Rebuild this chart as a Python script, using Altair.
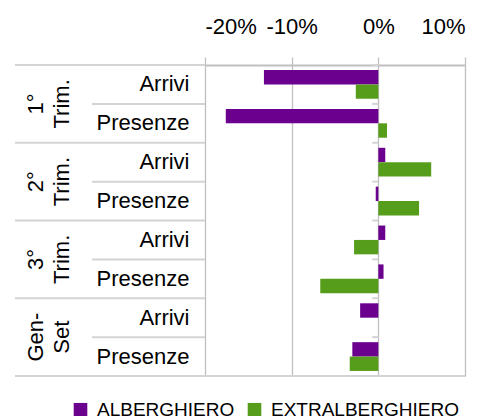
import altair as alt
import pandas as pd

FONT = "Liberation Sans"

groups = ["1° Trim.", "2° Trim.", "3° Trim.", "Gen-Set"]
group_labels = ["1°\nTrim.", "2°\nTrim.", "3°\nTrim.", "Gen-\nSet"]
measures = ["Arrivi", "Presenze"]
series = ["ALBERGHIERO", "EXTRALBERGHIERO"]
alberghiero = [-13.2, -17.6, 0.8, -0.3, 0.8, 0.6, -2.1, -3.0]
extralberghiero = [-2.6, 1.0, 6.1, 4.7, -2.8, -6.7, 0.0, -3.3]
x_ticks = [-20, -10, 0, 10]
colors = ["#6B008F", "#579D1C"]

cats = [f"{g}|{m}" for g in groups for m in measures]
rows = []
for i, c in enumerate(cats):
    rows.append({"cat": c, "series": series[0], "value": alberghiero[i]})
    rows.append({"cat": c, "series": series[1], "value": extralberghiero[i]})
df = pd.DataFrame(rows)


def yscale():
    return alt.Scale(domain=cats, paddingInner=0, paddingOuter=0)


def yaxis():
    return alt.Axis(title=None, labelExpr="split(datum.label, '|')[1]",
                    labelFontSize=22, labelPadding=16, domain=False,
                    ticks=False, grid=False, labelColor="#000000", labelFont=FONT)


def ycat(band=0.5):
    return alt.Y("cat:N", scale=yscale(), sort=cats, bandPosition=band, axis=yaxis())


bars = alt.Chart(df).mark_bar().encode(
    y=alt.Y("cat:N", scale=yscale(), sort=cats, axis=yaxis()),
    yOffset=alt.YOffset("series:N", sort=series,
                        scale=alt.Scale(domain=series, paddingOuter=0.35, paddingInner=0)),
    x=alt.X("value:Q", scale=alt.Scale(domain=[-20, 10], nice=False),
            axis=alt.Axis(orient="top", values=x_ticks, labelExpr="datum.value + '%'",
                          title=None, grid=True, gridColor="#BFBFBF", gridWidth=1.3,
                          domainColor="#BFBFBF", domainWidth=2, tickColor="#BFBFBF",
                          tickSize=8, tickWidth=1.3, labelFontSize=22, labelPadding=19,
                          labelColor="#000000", labelFont=FONT)),
    color=alt.Color("series:N", scale=alt.Scale(domain=series, range=colors),
                    legend=alt.Legend(orient="none", legendX=-134, legendY=335,
                                      direction="horizontal", title=None,
                                      symbolType="square", symbolSize=185,
                                      symbolStrokeWidth=0, labelFontSize=19,
                                      labelOffset=7, columnPadding=10, padding=0,
                                      labelLimit=0,
                                      labelColor="#000000", labelFont=FONT)),
)

group_df = pd.DataFrame({"cat": [f"{g}|Arrivi" for g in groups]})
sub_df = pd.DataFrame({"cat": [f"{g}|Presenze" for g in groups]})
bottom_df = pd.DataFrame({"cat": [cats[-1]]})
all_df = pd.DataFrame({"cat": cats})
label_df = pd.DataFrame({"cat": [f"{g}|Presenze" for g in groups], "label": group_labels})

sep_color = "#D4D4D4"

group_sep = alt.Chart(group_df).mark_rule(color=sep_color, strokeWidth=2).encode(
    y=ycat(0), x=alt.value(-190), x2=alt.value(0))

sub_sep = alt.Chart(sub_df).mark_rule(color=sep_color, strokeWidth=2).encode(
    y=ycat(0), x=alt.value(-113), x2=alt.value(0))

bottom_sep = alt.Chart(bottom_df).mark_rule(color=sep_color, strokeWidth=2).encode(
    y=ycat(1), x=alt.value(-190), x2=alt.value(260))

zero_ticks = alt.Chart(all_df).mark_rule(color=sep_color, strokeWidth=2).encode(
    y=ycat(0), x=alt.datum(0), x2=alt.datum(-0.7))

group_text = alt.Chart(label_df).mark_text(
    angle=270, align="center", baseline="middle", lineBreak="\n",
    fontSize=22, lineHeight=26, font=FONT, color="#000000").encode(
    y=ycat(0), x=alt.value(-169), text="label:N")

chart = alt.layer(group_sep, sub_sep, bottom_sep, bars, zero_ticks, group_text).properties(
    width=260, height=311,
    padding={"left": 197, "top": 57, "right": 18, "bottom": 40},
    autosize=alt.AutoSizeParams(type="none"),
).configure_view(stroke=None).configure(font=FONT)

chart.save("out.html", embed_options={"renderer": "svg", "actions": False})
